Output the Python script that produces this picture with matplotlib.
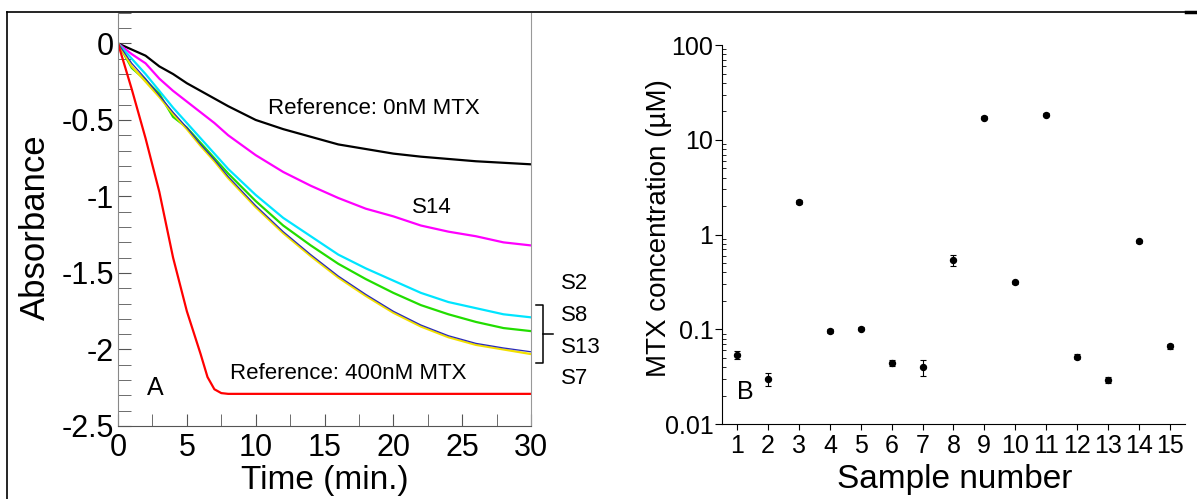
import matplotlib
matplotlib.use('Agg')
import matplotlib.pyplot as plt
from matplotlib.lines import Line2D
import numpy as np

plt.rcParams['font.family'] = ['Liberation Sans', 'DejaVu Sans']

# panel A: absorbance vs time
t = [0, 1, 2, 3, 4, 5, 6, 7, 8, 10, 12, 14, 16, 18, 20, 22, 24, 26, 28, 30]
ref0 = [0, -0.04, -0.08, -0.15, -0.2, -0.26, -0.31, -0.36, -0.41, -0.5, -0.56, -0.61,
        -0.66, -0.69, -0.72, -0.74, -0.755, -0.77, -0.78, -0.79]
s14 = [0, -0.07, -0.13, -0.23, -0.31, -0.38, -0.45, -0.52, -0.6, -0.73, -0.84, -0.93,
       -1.01, -1.08, -1.13, -1.19, -1.23, -1.26, -1.3, -1.32]
s2 = [0, -0.1, -0.2, -0.31, -0.42, -0.52, -0.62, -0.72, -0.82, -0.99, -1.14, -1.26,
      -1.38, -1.47, -1.55, -1.63, -1.69, -1.73, -1.77, -1.79]
s8 = [0, -0.16, -0.24, -0.33, -0.48, -0.55, -0.65, -0.75, -0.85, -1.03, -1.19, -1.32,
      -1.44, -1.54, -1.63, -1.71, -1.77, -1.82, -1.86, -1.88]
s13 = [0, -0.13, -0.23, -0.34, -0.45, -0.55, -0.66, -0.76, -0.87, -1.06, -1.23, -1.38,
       -1.52, -1.64, -1.75, -1.84, -1.91, -1.96, -1.99, -2.015]
s7 = [0, -0.15, -0.25, -0.35, -0.46, -0.56, -0.67, -0.77, -0.88, -1.07, -1.24, -1.39,
      -1.53, -1.65, -1.76, -1.85, -1.92, -1.97, -2.0, -2.03]
t_red = [0, 1, 2, 3, 4, 5, 6, 6.5, 7, 7.5, 8, 10, 15, 20, 25, 30]
ref400 = [0, -0.3, -0.62, -0.97, -1.4, -1.75, -2.03, -2.18, -2.26, -2.285, -2.29,
          -2.29, -2.29, -2.29, -2.29, -2.29]

# panel B: MTX concentration per sample
samples = list(range(1, 16))
conc = [0.0535, 0.030, 2.22, 0.096, 0.102, 0.0443, 0.040, 0.54, 17.1, 0.313, 18.5,
        0.0514, 0.0291, 0.853, 0.0666]
conc_err = [0.005, 0.005, 0.12, 0.004, 0.004, 0.003, 0.008, 0.07, 0.6, 0.015, 0.6,
            0.003, 0.002, 0.03, 0.004]

fig = plt.figure(figsize=(11.97, 4.99), dpi=100)

# ---- panel A ----
ax1 = fig.add_axes([0.0986, 0.1463, 0.345, 0.828])
ax1.plot(t, ref0, color='black', lw=1.6)
ax1.plot(t, s14, color='#ff00ff', lw=1.6)
ax1.plot(t, s2, color='#00e5ff', lw=1.6)
ax1.plot(t, s8, color='#22dd00', lw=1.6)
ax1.plot(t, s7, color='#f2e000', lw=1.6)
ax1.plot(t, s13, color='#2a2ab8', lw=0.9)
ax1.plot(t_red, ref400, color='#ff0000', lw=1.6)

ax1.set_xlim(0, 30)
ax1.set_ylim(-2.5, 0.2)
ax1.set_xticks([0, 5, 10, 15, 20, 25, 30])
ax1.set_xticks(np.arange(0, 30, 2.5), minor=True)
ax1.set_yticks([0, -0.5, -1, -1.5, -2, -2.5])
ax1.set_yticklabels(['0', '-0.5', '-1', '-1.5', '-2', '-2.5'])
ax1.set_yticks(np.arange(-2.5, 0.21, 0.1), minor=True)
ax1.tick_params(which='both', direction='in', colors='#555555', labelcolor='black',
                labelsize=22)
ax1.tick_params(axis='y', which='major', length=9, pad=3)
ax1.tick_params(axis='y', which='minor', length=9)
ax1.tick_params(axis='x', which='major', length=9, pad=5)
ax1.tick_params(axis='x', which='minor', length=9)
ax1.spines['top'].set_visible(False)
ax1.spines['left'].set_color('#888888')
ax1.spines['right'].set_color('#999999')
ax1.spines['bottom'].set_color('#555555')
ax1.set_xlabel('Time (min.)', fontsize=24, va='center')
ax1.set_ylabel('Absorbance', fontsize=25, va='center')
ax1.xaxis.set_label_coords(0.50, -0.133)
ax1.yaxis.set_label_coords(-0.20, 0.48)

ax1.text(10.9, -0.426, 'Reference: 0nM MTX', fontsize=16, ha='left', va='center')
ax1.text(22.8, -1.07, 'S14', fontsize=16, ha='center', va='center')
ax1.text(8.13, -2.155, 'Reference: 400nM MTX', fontsize=16, ha='left', va='center')
ax1.text(2.7, -2.25, 'A', fontsize=18, ha='center', va='center')

for lab, yy in zip(['S2', 'S8', 'S13', 'S7'], [-1.567, -1.776, -1.985, -2.187]):
    ax1.text(32.2, yy, lab, fontsize=16, ha='left', va='center', clip_on=False)
ax1.plot([30.36, 30.86, 30.86, 30.36], [-1.711, -1.711, -2.09, -2.09],
         color='black', lw=1.1, clip_on=False)
ax1.plot([30.86, 31.6], [-1.9, -1.9], color='black', lw=1.1, clip_on=False)

# ---- panel B ----
ax2 = fig.add_axes([0.603, 0.150, 0.387, 0.7596])
ax2.errorbar(samples, conc, yerr=conc_err, fmt='o', color='black', ms=4.3,
             elinewidth=0.8, capsize=2.5, capthick=0.8)
ax2.set_yscale('log')
ax2.set_xlim(0.5, 15.5)
ax2.set_ylim(0.01, 100)
ax2.set_xticks(samples)
ax2.set_xticklabels([str(s) for s in samples])
ax2.set_yticks([0.01, 0.1, 1, 10, 100])
ax2.set_yticklabels(['0.01', '0.1', '1', '10', '100'])
ax2.yaxis.set_minor_locator(matplotlib.ticker.LogLocator(base=10, subs=np.arange(2, 10)))
ax2.yaxis.set_minor_formatter(matplotlib.ticker.NullFormatter())
ax2.tick_params(axis='y', which='major', direction='out', length=5, pad=1, labelsize=18)
ax2.tick_params(axis='y', which='minor', direction='in', length=3)
ax2.tick_params(axis='x', which='major', direction='out', length=4, pad=3, labelsize=18)
ax2.spines['top'].set_visible(False)
ax2.spines['right'].set_visible(False)
ax2.set_xlabel('Sample number', fontsize=24, va='center')
ax2.set_ylabel('MTX concentration (\u00b5M)', fontsize=20, va='center')
ax2.xaxis.set_label_coords(0.503, -0.146)
ax2.yaxis.set_label_coords(-0.136, 0.518)
ax2.text(1.25, 0.022, 'B', fontsize=18, ha='center', va='center')

# frame lines around the figure
fig.add_artist(Line2D([7 / 1197, 1186 / 1197], [1 - 12 / 499, 1 - 12 / 499],
                      color='black', lw=1.2))
fig.add_artist(Line2D([7 / 1197, 7 / 1197], [1 - 12 / 499, 0], color='black', lw=1.2))
fig.add_artist(Line2D([1186 / 1197, 1], [1 - 12 / 499, 1 - 12 / 499],
                      color='black', lw=2.5))

fig.savefig('out.png', dpi=100)
